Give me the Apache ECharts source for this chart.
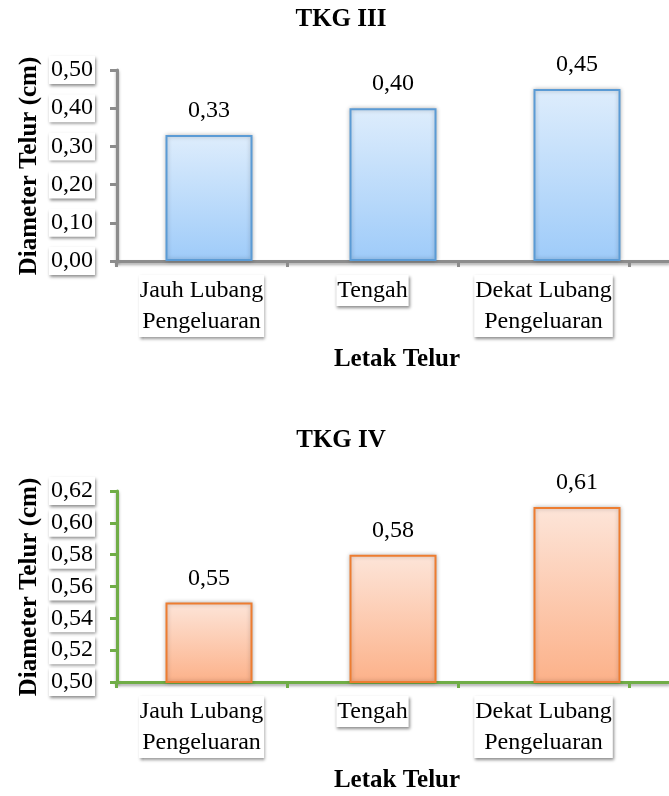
<!DOCTYPE html>
<html>
<head>
<meta charset="utf-8">
<script src="https://cdn.jsdelivr.net/npm/echarts@6/dist/echarts.min.js"></script>
<style>
  html, body { margin: 0; padding: 0; background: #ffffff; }
  #chart { width: 669px; height: 796px; }
</style>
</head>
<body>
<div id="chart"></div>
<script>
// Egg position categories and measured egg diameters (cm)
const categories = ['Jauh Lubang\nPengeluaran', 'Tengah', 'Dekat Lubang\nPengeluaran'];
const tkg3Values = [0.33, 0.40, 0.45];
const tkg4Values = [0.55, 0.58, 0.61];

// Value axis ranges
const tkg3Axis = { min: 0, max: 0.5, interval: 0.1 };
const tkg4Axis = { min: 0.5, max: 0.62, interval: 0.02 };

const FONT = 'Liberation Serif';
const fmt = v => v.toFixed(2).replace('.', ',');

const boxLabel = {
  color: '#000',
  fontFamily: FONT,
  fontWeight: 'normal',
  fontSize: 24,
  backgroundColor: '#fff',
  shadowColor: 'rgba(0,0,0,0.45)',
  shadowBlur: 3,
  shadowOffsetX: 1,
  shadowOffsetY: 2
};

function heading(text, x, y, rotate) {
  return {
    type: 'text', x: x, y: y, rotation: rotate ? Math.PI / 2 : 0,
    style: {
      text: text, align: 'center', verticalAlign: 'middle',
      textAlign: 'center', textVerticalAlign: 'middle',
      font: 'bold 25px ' + FONT, fill: '#000'
    }
  };
}

function panel(idx, top, title, values, range, theme) {
  const gridBars = idx * 2;
  const gridTicks = idx * 2 + 1;
  const axisLine = {
    lineStyle: {
      color: theme.axis, width: 3,
      shadowColor: 'rgba(0,0,0,0.35)', shadowBlur: 3, shadowOffsetY: 2
    }
  };
  return {
    grids: [
      { left: 117, top: top, width: 560, height: 191 },
      { left: 116, top: top, width: 513, height: 191 }
    ],
    xAxes: [
      {
        type: 'category', gridIndex: gridBars, data: categories,
        axisLine: Object.assign({ show: true }, axisLine),
        axisTick: { show: false }, axisLabel: { show: false }
      },
      {
        type: 'category', gridIndex: gridTicks, data: categories,
        axisLine: { show: false },
        axisTick: { show: true, interval: 0, length: 6, lineStyle: { color: theme.axis, width: 3 } },
        axisLabel: Object.assign({ interval: 0, margin: 14, lineHeight: 31, padding: [0, 1, 0, 1] }, boxLabel)
      }
    ],
    yAxes: [
      {
        type: 'value', gridIndex: gridBars,
        min: range.min, max: range.max, interval: range.interval,
        splitLine: { show: false },
        axisLine: Object.assign({ show: true }, axisLine),
        axisTick: { show: true, length: 7, lineStyle: { color: theme.axis, width: 3 } },
        axisLabel: Object.assign({ margin: 22, padding: [3, 2, 1, 2], formatter: fmt }, boxLabel)
      },
      {
        type: 'value', gridIndex: gridTicks, show: false,
        min: range.min, max: range.max
      }
    ],
    series: {
      type: 'bar', xAxisIndex: gridBars, yAxisIndex: gridBars,
      data: values, barWidth: 87,
      itemStyle: {
        color: new echarts.graphic.LinearGradient(0, 0, 0, 1, [
          { offset: 0, color: theme.top },
          { offset: 1, color: theme.bottom }
        ]),
        borderColor: theme.border, borderWidth: 2,
        shadowColor: 'rgba(0,0,0,0.25)', shadowBlur: 4
      },
      label: {
        show: true, position: 'top', distance: 12,
        formatter: p => fmt(p.value),
        fontFamily: FONT, fontWeight: 'normal', fontSize: 24, color: '#000'
      }
    },
    texts: [
      heading(title, 341, top - 50),
      heading('Letak Telur', 397, top + 290),
      heading('Diameter Telur (cm)', 30, top + 96, true)
    ]
  };
}

const p1 = panel(0, 70, 'TKG III', tkg3Values, tkg3Axis, {
  axis: '#8c8c8c', top: '#deedfc', bottom: '#9ecbf9', border: '#5b9bd5'
});
const p2 = panel(1, 491, 'TKG IV', tkg4Values, tkg4Axis, {
  axis: '#70ad47', top: '#fde5d9', bottom: '#fcb189', border: '#ed7d31'
});

// Grid order: panel1 bars, panel1 ticks, panel2 bars, panel2 ticks
const chart = echarts.init(document.getElementById('chart'), null, { renderer: 'canvas' });
chart.setOption({
  animation: false,
  backgroundColor: '#ffffff',
  grid: p1.grids.concat(p2.grids),
  xAxis: p1.xAxes.concat(p2.xAxes),
  yAxis: p1.yAxes.concat(p2.yAxes),
  series: [p1.series, p2.series],
  graphic: p1.texts.concat(p2.texts)
});
</script>
</body>
</html>
